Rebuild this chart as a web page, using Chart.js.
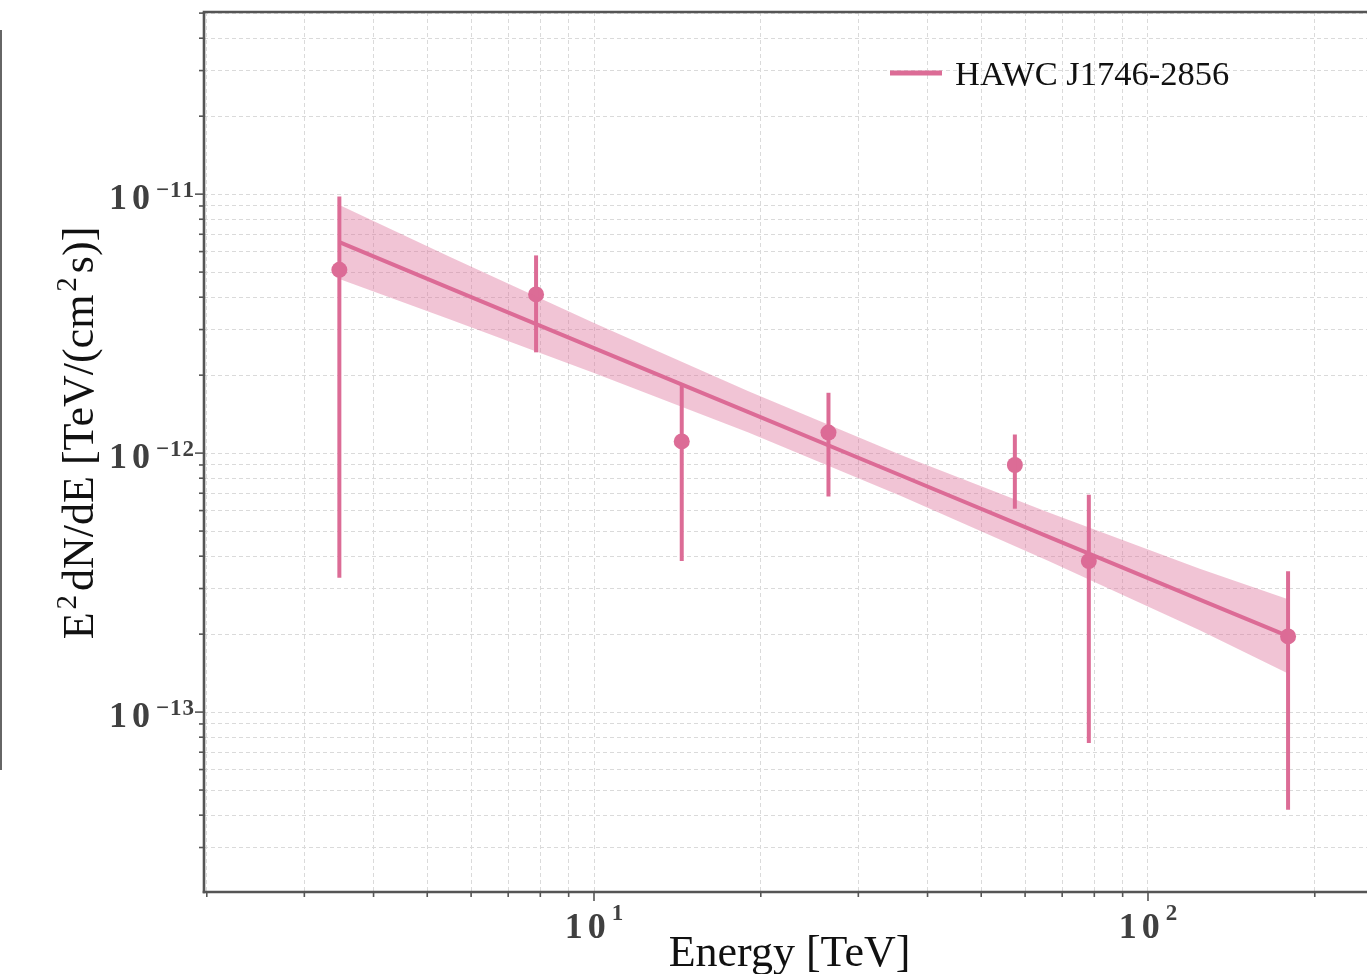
<!DOCTYPE html>
<html><head><meta charset="utf-8">
<script src="https://cdn.jsdelivr.net/npm/chart.js@4.4.1/dist/chart.umd.min.js"></script>
<style>
html,body{margin:0;padding:0;background:#fff;}
#wrap{position:relative;width:1367px;height:974px;overflow:hidden;background:#fff;}
#edge{position:absolute;left:0;top:30px;width:2px;height:740px;background:#666;}
canvas{position:absolute;left:0;top:0;}
</style></head><body>
<div id="wrap"><canvas id="c" width="1367" height="974"></canvas><div id="edge"></div></div>
<script>
// ---------------- data ----------------
const seriesName = 'HAWC J1746-2856';
const energy  = [3.47, 7.86, 14.4, 26.5, 57.5, 78.2, 179];
const flux    = [5.1e-12, 4.1e-12, 1.11e-12, 1.2e-12, 9.0e-13, 3.83e-13, 1.96e-13];
const fluxHi  = [9.8e-12, 5.8e-12, 1.85e-12, 1.71e-12, 1.18e-12, 6.9e-13, 3.5e-13];
const fluxLo  = [3.3e-13, 2.45e-12, 3.83e-13, 6.8e-13, 6.1e-13, 7.6e-14, 4.2e-14];
const fitEnergy = [3.47, 5.5, 10, 19, 36, 66, 124, 179];
const fitFlux   = [6.53e-12, 4.33e-12, 2.545e-12, 1.441e-12, 8.16e-13, 4.76e-13, 2.72e-13, 1.965e-13];
const bandHi    = [9.07e-12, 5.72e-12, 3.18e-12, 1.732e-12, 9.80e-13, 5.91e-13, 3.58e-13, 2.73e-13];
const bandLo    = [4.70e-12, 3.28e-12, 2.04e-12, 1.20e-12, 6.80e-13, 3.84e-13, 2.07e-13, 1.41e-13];
const xRange = [1.977, 248.5];
const yRange = [2.02e-14, 5.05e-11];
const xTickLabels = [[10, '1'], [100, '2']];
const yTickLabels = [[1e-11, '\u221211'], [1e-12, '\u221212'], [1e-13, '\u221213']];
const xTitle = 'Energy [TeV]';
const yTitleParts = [['E', 0], ['2', 1], ['dN/dE [TeV/(cm', 0], ['2', 1], ['s)]', 0]];

// ---------------- style ----------------
const PINK = '#DC6C96';
const BAND = 'rgba(220,108,150,0.40)';
const SERIF = '"Liberation Serif", "Times New Roman", serif';

function xy(xs, ys) { return xs.map((v, i) => ({x: v, y: ys[i]})); }

function buildLogTicks(scale) {
  const min = scale.min, max = scale.max, ticks = [];
  for (let e = Math.floor(Math.log10(min)); e <= Math.ceil(Math.log10(max)); e++) {
    for (let m = 1; m <= 9; m++) {
      const v = parseFloat(m + 'e' + e);
      if (v > min * 1.0001 && v < max / 1.0001) ticks.push({value: v, major: m === 1});
    }
  }
  scale.ticks = ticks;
}

const datasets = [
  {label: 'bandHi', data: xy(fitEnergy, bandHi), borderWidth: 0, pointRadius: 0, fill: '+1', backgroundColor: BAND, borderColor: 'rgba(0,0,0,0)'},
  {label: 'bandLo', data: xy(fitEnergy, bandLo), borderWidth: 0, pointRadius: 0, fill: false, borderColor: 'rgba(0,0,0,0)'},
  {label: seriesName, data: xy(fitEnergy, fitFlux), borderColor: PINK, borderWidth: 4, pointRadius: 0, fill: false},
];
energy.forEach((e, i) => {
  datasets.push({label: 'err' + i, data: [{x: e, y: fluxLo[i]}, {x: e, y: fluxHi[i]}],
    borderColor: PINK, borderWidth: 4, pointRadius: 0, fill: false, borderCapStyle: 'butt'});
});
datasets.push({label: 'points', data: xy(energy, flux), showLine: false, pointRadius: 8,
  pointBackgroundColor: PINK, pointBorderWidth: 0, borderColor: PINK, pointHoverRadius: 8});

function line(ctx, x1, y1, x2, y2) { ctx.beginPath(); ctx.moveTo(x1, y1); ctx.lineTo(x2, y2); ctx.stroke(); }

function drawDigits(ctx, txt, x, y, gap) {
  let cx = x;
  for (const ch of txt) { ctx.fillText(ch, cx, y); cx += ctx.measureText(ch).width + gap; }
  return cx - gap;
}
function digitsWidth(ctx, txt, gap) {
  let w = 0; for (const ch of txt) w += ctx.measureText(ch).width + gap; return w - gap;
}

const decor = {
  id: 'decor',
  afterDraw(chart) {
    const {ctx, chartArea: a, scales: {x, y}} = chart;
    ctx.save();
    // tick marks
    ctx.strokeStyle = '#555'; ctx.lineWidth = 1.6;
    y.ticks.forEach(t => { const py = y.getPixelForValue(t.value); line(ctx, a.left - (t.major ? 9 : 5), py, a.left, py); });
    x.ticks.forEach(t => { const px = x.getPixelForValue(t.value); line(ctx, px, a.bottom, px, a.bottom + (t.major ? 9 : 5)); });
    // spines
    ctx.lineWidth = 2.6; ctx.strokeStyle = '#555';
    line(ctx, a.left, a.top, a.left, a.bottom + 1.3);
    line(ctx, a.left - 1.3, a.bottom, a.right, a.bottom);
    line(ctx, a.left - 1.3, a.top, a.right, a.top);

    // tick labels
    ctx.fillStyle = '#404040'; ctx.textBaseline = 'alphabetic'; ctx.textAlign = 'left';
    const bigF = 'bold 36px ' + SERIF, supF = 'bold 23px ' + SERIF;
    yTickLabels.forEach(([v, ex]) => {
      const py = y.getPixelForValue(v);
      ctx.font = supF; const w2 = digitsWidth(ctx, ex, 1);
      ctx.font = bigF; const w1 = digitsWidth(ctx, '10', 5);
      const right = a.left - 10;
      const sx = right - w2, bx = sx - 6 - w1;
      ctx.font = bigF; drawDigits(ctx, '10', bx, py + 15, 5);
      ctx.font = supF; drawDigits(ctx, ex, sx, py + 3, 1);
    });
    xTickLabels.forEach(([v, ex]) => {
      const px = x.getPixelForValue(v);
      ctx.font = supF; const w2 = digitsWidth(ctx, ex, 1);
      ctx.font = bigF; const w1 = digitsWidth(ctx, '10', 5);
      const total = w1 + 6 + w2, bx = px - total / 2;
      ctx.font = bigF; drawDigits(ctx, '10', bx, a.bottom + 46, 5);
      ctx.font = supF; drawDigits(ctx, ex, bx + w1 + 6, a.bottom + 28, 1);
    });

    // axis titles
    ctx.fillStyle = '#111';
    ctx.font = '44px ' + SERIF; ctx.textAlign = 'center';
    ctx.fillText(xTitle, (a.left + a.right) / 2 + 4, a.bottom + 74);

    ctx.save();
    ctx.translate(a.left - 111, (a.top + a.bottom) / 2 - 19);
    ctx.rotate(-Math.PI / 2);
    ctx.textAlign = 'left';
    const fN = '44px ' + SERIF, fS = '29px ' + SERIF;
    let tot = 0;
    yTitleParts.forEach(([t, s]) => { ctx.font = s ? fS : fN; tot += ctx.measureText(t).width + (s ? 7 : 0); });
    let cx = -tot / 2;
    yTitleParts.forEach(([t, s]) => {
      ctx.font = s ? fS : fN;
      if (s) { ctx.fillText(t, cx + 3, -17); cx += ctx.measureText(t).width + 7; }
      else { ctx.fillText(t, cx, 0); cx += ctx.measureText(t).width; }
    });
    ctx.restore();

    // legend
    const lx = a.right - 477, ly = a.top + 61;
    ctx.strokeStyle = PINK; ctx.lineWidth = 5;
    line(ctx, lx, ly, lx + 52, ly);
    ctx.fillStyle = '#111'; ctx.font = '34.5px ' + SERIF; ctx.textAlign = 'left';
    ctx.fillText(seriesName, lx + 65, ly + 12);
    ctx.restore();
  }
};

const gridCfg = {color: '#dadada', lineWidth: 1, drawTicks: false};
new Chart(document.getElementById('c'), {
  type: 'line',
  data: {datasets},
  options: {
    responsive: false, animation: false, devicePixelRatio: 1,
    layout: {autoPadding: false, padding: {top: 12, right: 0, bottom: 0, left: 0}},
    plugins: {legend: {display: false}, tooltip: {enabled: false}},
    elements: {line: {tension: 0}},
    scales: {
      x: {type: 'logarithmic', position: 'bottom', min: xRange[0], max: xRange[1],
        ticks: {display: false}, grid: gridCfg, border: {display: false, dash: [4, 3]},
        afterBuildTicks: buildLogTicks, afterFit: s => { s.height = 82; }},
      y: {type: 'logarithmic', position: 'left', min: yRange[0], max: yRange[1],
        ticks: {display: false}, grid: gridCfg, border: {display: false, dash: [4, 3]},
        afterBuildTicks: buildLogTicks, afterFit: s => { s.width = 204; }}
    }
  },
  plugins: [decor]
});
</script>
</body></html>
